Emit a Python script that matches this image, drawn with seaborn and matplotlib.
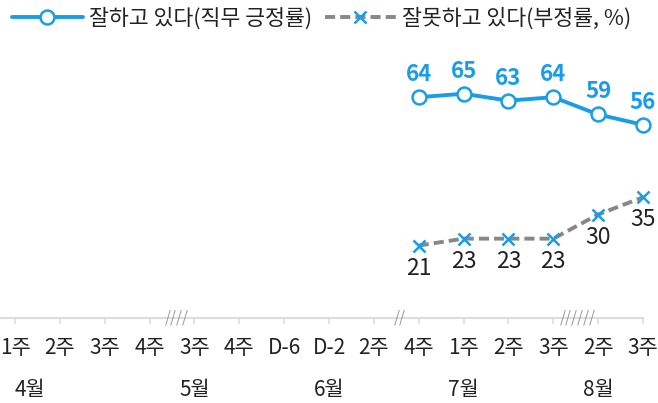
import numpy as np
import pandas as pd
import matplotlib
matplotlib.use("Agg")
import matplotlib.pyplot as plt
import matplotlib.transforms as mtransforms
from matplotlib.lines import Line2D
import seaborn as sns

sns.set_theme(style="white")
plt.rcParams['font.family'] = ['Noto Sans CJK KR', 'DejaVu Sans']

weeks = ["1주", "2주", "3주", "4주", "3주", "4주", "D-6", "D-2", "2주", "4주", "1주", "2주", "3주", "2주", "3주"]
months = ["4월", "5월", "6월", "7월", "8월"]
month_pos = [0, 4, 7, 10, 13]
positive = [np.nan] * 9 + [64, 65, 63, 64, 59, 56]
negative = [np.nan] * 9 + [21, 23, 23, 23, 30, 35]
break_pos = [3.6, 8.57, 12.54]
break_marks = ["////", "//", "//////"]
pos_label = "잘하고 있다(직무 긍정률)"
neg_label = "잘못하고 있다(부정률, %)"

BLUE = "#1a9de6"
GRAY = "#888888"
DASH = (0, (2.6, 1.3))

df = pd.DataFrame({"x": np.arange(len(weeks)), "pos": positive, "neg": negative})

W, H = 658, 403
fig = plt.figure(figsize=(W / 100, H / 100), dpi=100)
ax = fig.add_axes([0, 1 - 318 / H, 643 / W, (318 - 42) / H])

sns.lineplot(data=df, x="x", y="pos", ax=ax, color=BLUE, linewidth=2.8,
             marker="o", markersize=10, markerfacecolor="white",
             markeredgecolor=BLUE, markeredgewidth=1.8, clip_on=False)
sns.lineplot(data=df, x="x", y="neg", ax=ax, color=GRAY, linewidth=2.8,
             linestyle=DASH, marker="x", markersize=8,
             markeredgecolor=BLUE, markeredgewidth=1.8, clip_on=False)

ax.set_xlim(-15 / 44.8, 14)
ax.set_ylim(0, 80)

for x, v in zip(df["x"], positive):
    if not np.isnan(v):
        ax.annotate(f"{v:.0f}", (x, v), xytext=(0, 8), textcoords="offset points",
                    ha="center", va="bottom", color=BLUE, fontsize=16, fontweight="bold")
for x, v in zip(df["x"], negative):
    if not np.isnan(v):
        ax.annotate(f"{v:.0f}", (x, v), xytext=(0, -8), textcoords="offset points",
                    ha="center", va="top", color="#222222", fontsize=16.5)

for s in ["left", "right", "top"]:
    ax.spines[s].set_visible(False)
ax.spines["bottom"].set_color("#dddddd")
ax.spines["bottom"].set_linewidth(1.5)
ax.set_yticks([])
ax.set_xticks(df["x"])
ax.set_xticklabels(weeks, fontsize=15, color="#222222")
ax.tick_params(axis="x", direction="out", length=4.5, width=1.2, color="#dddddd", pad=9, bottom=True)
ax.set_xlabel("")
ax.set_ylabel("")

trans = mtransforms.blended_transform_factory(ax.transData, ax.transAxes)
for p, m in zip(month_pos, months):
    ax.text(p, -72 / (318 - 42), m, transform=trans, ha="left" if p == 0 else "center",
            va="center", fontsize=15, color="#222222", clip_on=False)
for p, b in zip(break_pos, break_marks):
    ax.text(p, 0, b, transform=ax.transData, ha="center", va="center",
            fontsize=11, color="#999999", fontstyle="italic", clip_on=False)

handles = [
    Line2D([], [], color=BLUE, linewidth=2.8, marker="o", markersize=10,
           markerfacecolor="white", markeredgecolor=BLUE, markeredgewidth=1.8),
    Line2D([], [], color=GRAY, linewidth=2.8, linestyle=DASH, marker="x",
           markersize=8, markeredgecolor=BLUE, markeredgewidth=1.8),
]
if ax.get_legend():
    ax.get_legend().remove()
fig.legend(handles, [pos_label, neg_label], loc="upper left", bbox_to_anchor=(-0.012, 1.03),
           ncol=2, frameon=False, fontsize=15.6, handlelength=3.3, handletextpad=0.25,
           columnspacing=0.6, labelcolor="#222222")

fig.savefig("out.png", dpi=100)
